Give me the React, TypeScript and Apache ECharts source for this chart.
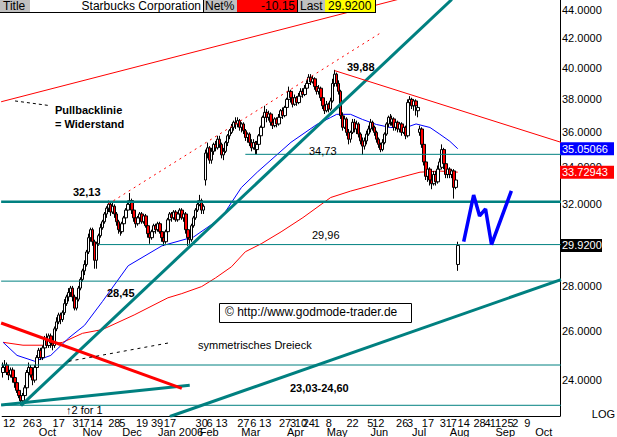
import React, { useEffect, useRef } from 'react';
import * as echarts from 'echarts';

const FONT = '"Liberation Sans", Arial, sans-serif';

// ---- categories: trading days starting 2005-09-06 ----
const HOLIDAYS = ['2005-11-24', '2005-12-26', '2006-01-02', '2006-01-16', '2006-02-20', '2006-04-14', '2006-05-29', '2006-07-04'];
const CATEGORY_COUNT = 281;
function tradingDays(): string[] {
  const out: string[] = [];
  const d = new Date(Date.UTC(2005, 8, 6));
  while (out.length < CATEGORY_COUNT) {
    const wd = d.getUTCDay();
    const s = d.toISOString().slice(0, 10);
    if (wd !== 0 && wd !== 6 && HOLIDAYS.indexOf(s) < 0) out.push(s);
    d.setUTCDate(d.getUTCDate() + 1);
  }
  return out;
}
const dates = tradingDays();

// ---- tick labels ----
const dayTicks: [number, string][] = [[3, '12'], [13, '26'], [18, '3'], [28, '17'], [38, '31'], [42, '7'], [47, '14'], [56, '28'], [60, '5'], [70, '19'], [76, '3'], [79, '9'], [84, '17'], [100, '30'], [104, '6'], [110, '13'], [121, '27'], [126, '6'], [132, '13'], [142, '27'], [146, '3'], [150, '10'], [154, '24'], [158, '1'], [164, '8'], [176, '22'], [185, '5'], [189, '12'], [201, '26'], [205, '3'], [214, '17'], [223, '31'], [227, '7'], [232, '14'], [240, '28'], [244, '4'], [248, '11'], [254, '25'], [258, '2'], [264, '9']];
const monthTicks: [number, string][] = [[18, 'Oct'], [40, 'Nov'], [60, 'Dec'], [78, 'Jan 2006'], [99, 'Feb'], [120, 'Mar'], [143, 'Apr'], [163, 'May'], [185, 'Jun'], [206, 'Jul'], [225, 'Aug'], [248, 'Sep'], [268, 'Oct']];
const priceTicks = [24, 26, 28, 32, 34, 36, 38, 40, 42, 44];
const priceMin = 22.63;
const priceMax = 44.71;
const lastMA50 = 35.05066;
const lastMA200 = 33.72943;
const lastPrice = 29.92;

// ---- candles: [open, close, low, high] ----
const candles: number[][] = [
  [24.3, 24.5, 24.1, 24.7], [24.5, 24.6, 24.3, 24.8], [24.6, 24.3, 24.2, 24.7], [24.3, 24.2, 24.0, 24.4], [24.2, 24.4, 24.1, 24.5],
  [24.4, 24.1, 23.9, 24.5], [24.1, 23.9, 23.7, 24.2], [23.9, 23.6, 23.5, 24.0], [23.6, 23.4, 23.3, 23.7], [23.4, 23.2, 23.03, 23.5],
  [23.2, 23.4, 23.05, 23.5], [23.4, 23.7, 23.3, 23.8], [23.7, 24.3, 23.6, 24.4], [24.3, 24.5, 24.2, 24.7], [24.5, 24.2, 24.1, 24.6],
  [24.2, 24.0, 23.8, 24.3], [24.0, 24.5, 23.9, 24.6], [24.5, 24.9, 24.4, 25.0], [24.9, 25.2, 24.8, 25.3], [25.2, 24.9, 24.8, 25.3],
  [24.9, 25.3, 24.8, 25.4], [25.3, 25.7, 25.2, 25.8], [25.7, 25.4, 25.3, 25.9], [25.4, 25.8, 25.3, 25.9], [25.8, 25.5, 25.3, 25.9],
  [25.5, 25.4, 25.2, 25.6], [25.4, 26.1, 25.3, 26.2], [26.1, 26.4, 26.0, 26.6], [26.4, 26.7, 26.3, 26.8], [26.7, 26.5, 26.3, 26.8],
  [26.5, 26.8, 26.4, 26.9], [26.8, 27.2, 26.7, 27.4], [27.2, 27.5, 27.1, 27.6], [27.5, 27.7, 27.3, 27.9], [27.7, 27.9, 27.5, 28.0],
  [27.9, 27.5, 27.3, 28.0], [27.5, 27.0, 26.9, 27.6], [27.0, 27.4, 26.9, 27.5], [27.4, 27.9, 27.3, 28.0], [27.9, 28.3, 27.8, 28.4],
  [28.3, 28.7, 28.2, 28.8], [28.7, 29.0, 28.5, 29.2], [29.0, 29.6, 28.9, 29.7], [29.6, 30.3, 29.5, 30.5], [30.3, 30.7, 30.1, 30.8],
  [30.7, 30.1, 29.9, 30.8], [30.1, 29.2, 28.8, 30.2], [29.2, 30.0, 28.8, 30.1], [30.0, 30.4, 29.9, 30.5], [30.4, 30.8, 30.3, 31.0],
  [30.8, 31.1, 30.7, 31.2], [31.1, 31.5, 31.0, 31.6], [31.5, 31.8, 31.3, 31.9], [31.8, 32.0, 31.6, 32.2], [32.0, 31.6, 31.4, 32.1],
  [31.6, 31.9, 31.5, 32.1], [31.9, 31.5, 31.3, 32.0], [31.5, 31.1, 30.9, 31.6], [31.1, 30.7, 30.5, 31.2], [30.7, 30.6, 30.4, 30.9],
  [30.6, 31.0, 30.5, 31.1], [31.0, 31.3, 30.9, 31.4], [31.3, 31.7, 31.2, 31.8], [31.7, 32.0, 31.6, 32.2], [32.0, 32.2, 31.8, 32.6],
  [32.2, 31.7, 31.5, 32.3], [31.7, 31.3, 31.1, 31.8], [31.3, 31.0, 30.8, 31.4], [31.0, 31.3, 30.9, 31.4], [31.3, 31.5, 31.1, 31.6],
  [31.5, 31.1, 31.0, 31.6], [31.1, 31.4, 31.0, 31.5], [31.4, 30.9, 30.8, 31.5], [30.9, 30.5, 30.3, 31.0], [30.5, 30.3, 30.0, 30.6],
  [30.3, 30.6, 30.2, 30.7], [30.6, 30.9, 30.5, 31.0], [30.9, 30.7, 30.5, 31.0], [30.7, 31.0, 30.6, 31.1], [31.0, 30.6, 30.5, 31.1],
  [30.6, 30.3, 30.1, 30.7], [30.3, 30.1, 29.9, 30.4], [30.1, 30.6, 30.0, 30.7], [30.6, 31.2, 30.5, 31.3], [31.2, 31.5, 31.0, 31.6],
  [31.5, 31.3, 31.1, 31.6], [31.3, 31.6, 31.2, 31.7], [31.6, 31.2, 31.1, 31.7], [31.2, 31.5, 31.1, 31.6], [31.5, 31.7, 31.3, 31.8],
  [31.7, 31.3, 31.2, 31.8], [31.3, 31.5, 31.1, 31.6], [31.5, 30.7, 30.5, 31.6], [30.7, 30.3, 29.9, 30.8], [30.3, 30.2, 30.0, 30.5],
  [30.2, 30.9, 30.1, 31.0], [30.9, 31.3, 30.8, 31.4], [31.3, 31.7, 31.2, 31.8], [31.7, 32.0, 31.6, 32.2], [32.0, 32.2, 31.9, 32.5],
  [32.2, 31.7, 31.5, 32.3], [31.7, 31.9, 31.5, 32.0], [33.3, 34.8, 33.0, 35.0], [34.8, 35.1, 34.5, 35.4], [35.1, 34.4, 34.2, 35.2],
  [34.4, 34.9, 34.2, 35.1], [34.9, 35.3, 34.7, 35.4], [35.3, 35.1, 34.9, 35.5], [35.1, 35.6, 35.0, 35.8], [35.6, 35.3, 35.1, 35.8],
  [35.3, 34.7, 34.5, 35.4], [34.7, 34.9, 34.4, 35.1], [34.9, 35.4, 34.8, 35.5], [35.4, 35.8, 35.2, 35.9], [35.8, 36.1, 35.6, 36.2],
  [36.0, 36.3, 35.9, 36.5], [36.3, 36.6, 36.1, 36.7], [36.6, 36.5, 36.2, 36.9], [36.5, 36.7, 36.3, 36.9], [36.7, 36.3, 36.1, 36.8],
  [36.3, 36.5, 36.0, 36.6], [36.5, 36.1, 35.9, 36.6], [36.1, 35.7, 35.5, 36.2], [35.7, 35.9, 35.4, 36.0], [35.9, 35.4, 35.2, 36.0],
  [35.4, 35.1, 34.9, 35.6], [35.1, 35.4, 35.0, 35.6], [35.4, 35.0, 34.73, 35.5], [35.0, 35.3, 34.73, 35.5], [35.3, 35.8, 35.1, 35.9],
  [35.8, 36.3, 35.6, 36.4], [36.3, 36.9, 36.1, 37.0], [36.9, 37.2, 36.7, 37.6], [37.2, 36.9, 36.6, 37.4], [36.9, 37.1, 36.7, 37.3],
  [37.1, 36.6, 36.4, 37.2], [36.6, 36.4, 36.2, 36.8], [36.4, 36.8, 36.3, 36.9], [36.8, 36.5, 36.3, 36.9], [36.5, 36.9, 36.4, 37.1],
  [36.9, 37.3, 36.8, 37.4], [37.3, 37.0, 36.8, 37.5], [37.0, 37.5, 36.9, 37.6], [37.5, 38.0, 37.4, 38.1], [38.0, 38.5, 37.9, 38.8],
  [38.5, 38.1, 37.8, 38.6], [38.1, 37.7, 37.5, 38.2], [37.7, 38.1, 37.6, 38.3], [38.1, 37.8, 37.6, 38.2], [37.8, 38.2, 37.7, 38.4],
  [38.2, 38.5, 38.1, 38.7], [38.5, 38.3, 38.1, 38.7], [38.3, 38.7, 38.2, 38.9], [38.7, 39.0, 38.6, 39.2], [39.0, 39.4, 38.9, 39.6],
  [39.4, 39.1, 38.9, 39.6], [39.1, 39.3, 39.0, 39.5], [39.3, 38.8, 38.6, 39.4], [38.8, 38.5, 38.3, 38.9], [38.5, 38.7, 38.3, 38.9],
  [38.7, 38.1, 37.9, 38.8], [38.1, 37.6, 37.4, 38.2], [37.6, 37.3, 37.1, 37.8], [37.3, 37.7, 37.2, 37.9], [37.7, 37.4, 37.2, 37.8],
  [37.4, 37.9, 37.3, 38.1], [37.9, 39.0, 37.8, 39.3], [39.0, 39.6, 38.8, 39.88], [39.6, 39.0, 38.8, 39.7], [39.0, 38.5, 38.3, 39.2],
  [38.5, 37.0, 36.8, 38.6], [37.0, 36.3, 36.1, 37.2], [36.3, 36.8, 36.2, 37.0], [36.8, 36.0, 35.8, 36.9], [36.0, 35.6, 35.3, 36.2],
  [35.6, 36.0, 35.4, 36.1], [36.0, 36.6, 35.9, 36.8], [36.6, 36.2, 36.0, 36.8], [36.2, 36.5, 35.9, 36.7], [36.5, 35.9, 35.7, 36.6],
  [35.9, 35.5, 35.3, 36.0], [35.5, 35.2, 34.7, 35.7], [35.2, 35.5, 35.0, 35.7], [35.5, 35.9, 35.3, 36.1], [35.9, 36.2, 35.8, 36.4],
  [36.2, 36.6, 36.0, 36.8], [36.6, 36.3, 36.1, 36.7], [36.3, 36.0, 35.8, 36.4], [36.0, 35.6, 35.4, 36.1], [35.6, 35.3, 35.1, 35.7],
  [35.3, 35.0, 34.85, 35.4], [35.0, 35.4, 34.9, 35.6], [35.4, 35.9, 35.3, 36.0], [35.9, 36.5, 35.8, 36.6], [36.5, 36.9, 36.3, 37.0],
  [36.9, 36.6, 36.4, 37.1], [36.6, 36.8, 36.4, 37.0], [36.8, 36.3, 36.1, 36.9], [36.3, 36.6, 36.1, 36.8], [36.6, 36.2, 36.0, 36.7],
  [36.2, 36.5, 36.0, 36.6], [36.5, 36.0, 35.8, 36.6], [36.0, 36.3, 35.9, 36.5], [36.3, 35.8, 35.6, 36.4], [35.8, 37.8, 35.7, 38.0],
  [37.8, 38.0, 37.5, 38.2], [38.0, 37.6, 37.4, 38.1], [37.6, 37.9, 37.3, 38.0], [37.9, 37.6, 37.0, 38.0], [37.3, 37.5, 36.9, 37.7],
  [36.0, 36.2, 35.8, 36.4], [36.2, 35.3, 35.1, 36.3], [35.3, 34.3, 34.1, 35.5], [34.3, 33.5, 33.3, 34.5], [33.5, 33.9, 33.2, 34.2],
  [33.9, 33.3, 33.0, 34.0], [33.3, 33.1, 32.8, 33.6], [33.1, 33.6, 33.0, 33.8], [33.6, 33.2, 33.0, 33.8], [33.2, 33.9, 33.1, 34.1],
  [33.9, 34.3, 33.7, 34.5], [34.0, 35.0, 33.9, 35.3], [35.0, 34.2, 33.9, 35.1], [34.2, 33.6, 33.4, 34.4], [33.6, 33.9, 33.4, 34.0],
  [33.9, 33.6, 33.4, 34.0], [33.6, 33.8, 33.4, 33.9], [33.8, 32.9, 32.3, 33.9], [32.9, 33.3, 32.8, 33.5], [29.0, 29.92, 28.7, 30.1],
];

// ---- moving averages [dayIndex, price] ----
const ma50: [number, number][] = [[0, 25.53], [7, 24.99], [16, 24.75], [24, 24.99], [33, 25.71], [41, 26.25], [50, 27.29], [63, 28.94], [80, 29.9], [96, 30.34], [110, 31.31], [120, 32.89], [128, 33.73], [145, 35.42], [158, 36.47], [165, 36.89], [168, 37.08], [175, 37.08], [181, 36.77], [188, 36.47], [195, 36.29], [203, 36.29], [208, 36.5], [215, 36.29], [220, 35.89], [225, 35.48], [229, 35.05]];
const ma200: [number, number][] = [[0, 25.53], [10, 25.41], [20, 25.41], [30, 25.53], [40, 25.91], [50, 26.07], [66, 26.7], [83, 27.46], [90, 27.65], [100, 27.97], [107, 28.37], [115, 28.89], [122, 29.61], [130, 30.0], [140, 30.59], [151, 31.31], [165, 32.36], [175, 32.7], [188, 33.08], [200, 33.44], [210, 33.73], [220, 33.79], [229, 33.73]];

// ---- drawn trend lines [dayIndex, price] ----
const upTrend: [number, number][] = [[9, 23.02], [226, 44.75]];
const lowerTrend: [number, number][] = [[84, 22.61], [281, 28.29]];
const triangleLow: [number, number][] = [[-1, 23.04], [94, 23.8]];
const triangleHigh: [number, number][] = [[-1, 26.35], [90, 23.68]];
const pullbackLine: [number, number][] = [[-1, 37.85], [210, 45.17]];
const channelLine: [number, number][] = [[53, 32.02], [191, 42.44]];
const topLine: [number, number][] = [[167, 39.83], [281, 35.42]];
const pullbackPointer: [number, number][] = [[6, 37.9], [23, 37.62]];
const triangleDash: [number, number][] = [[33, 24.75], [85, 25.53]];
const projection: [number, number][] = [[232, 30.1], [237, 32.49], [240, 31.4], [243, 31.76], [246, 29.96], [256, 32.71]];
// horizontal levels: [price, fromIndex]
const levelThin: [number, number][] = [[34.73, 122], [29.96, 48], [28.22, -1], [24.6, -1], [23.03, -1]];
const levelThick: [number, number][] = [[32.13, -1]];

const L = Math.log;
const TEAL = '#008080';

function lineSeries(pts: [number, number][], color: string, width: number, type: any = 'solid', z = 5) {
  return {
    type: 'line',
    data: pts.map(([x, p]) => [x, L(p)]),
    symbol: 'none',
    silent: true,
    clip: true,
    z,
    lineStyle: { color, width, type },
  };
}

export default function App() {
  const ref = useRef<HTMLDivElement>(null);
  useEffect(() => {
    if (!ref.current) return;
    const chart = echarts.init(ref.current, undefined, { renderer: 'svg' });
    const dayMap = new Map(dayTicks);
    const monthMap = new Map(monthTicks);
    const hl = [lastMA50, lastMA200, lastPrice];
    const hlStyle = ['blue', 'red', 'black'];
    const series: any[] = [
      { ...lineSeries(ma200, '#ff0000', 1, 'solid', 2) },
      { ...lineSeries(ma50, '#0000ff', 1, 'solid', 2) },
      {
        type: 'candlestick',
        data: candles.map((c) => c.map(L)),
        barWidth: 3,
        z: 3,
        silent: true,
        itemStyle: { color: '#ffffff', color0: '#ff0000', borderColor: '#000000', borderColor0: '#000000', borderWidth: 1 },
      },
      lineSeries(upTrend, TEAL, 3),
      lineSeries(lowerTrend, TEAL, 3),
      lineSeries(triangleLow, TEAL, 3),
      lineSeries(triangleHigh, '#ff0000', 3),
      lineSeries(pullbackLine, '#ff0000', 1),
      lineSeries(channelLine, '#ff0000', 1, [2, 4]),
      lineSeries(topLine, '#ff0000', 1),
      lineSeries(pullbackPointer, '#000000', 1, [3, 3]),
      lineSeries(triangleDash, '#000000', 1, [3, 4]),
      lineSeries(projection, '#0000ff', 3.5, 'solid', 6),
      ...levelThin.map(([p, from]) => lineSeries([[from, p], [281, p]], TEAL, 1, 'solid', 4)),
      ...levelThick.map(([p, from]) => lineSeries([[from, p], [281, p]], TEAL, 2.5, 'solid', 4)),
    ];

    const txt = (text: string, x: number, y: number, font: string, align = 'left', fill = '#000') => ({
      type: 'text', x, y, z: 100,
      style: { text, font, fill, align, verticalAlign: 'top' },
    });
    const rect = (x: number, y: number, w: number, h: number, fill: string, stroke?: string) => ({
      type: 'rect', z: 99, shape: { x, y, width: w, height: h },
      style: { fill, stroke: stroke || null, lineWidth: 1 },
    });
    const ln = (x1: number, y1: number, x2: number, y2: number) => ({
      type: 'line', z: 101, shape: { x1, y1, x2, y2 }, style: { stroke: '#000', lineWidth: 1 },
    });
    const HF = `12px ${FONT}`;
    const BF = `bold 11px ${FONT}`;
    const RF = `11px ${FONT}`;

    const graphic: any[] = [
      rect(0, 0, 376, 12, '#ffffff'),
      rect(0, 0, 30, 12, '#c0c0c0'),
      rect(203, 0, 34, 12, '#c0c0c0'),
      rect(237, 0, 60, 12, '#ff0000'),
      rect(298, 0, 27, 12, '#c0c0c0'),
      rect(325, 0, 50, 12, '#ffff00'),
      ln(0, 12.5, 376, 12.5),
      ln(203.5, 0, 203.5, 12),
      ln(297.5, 0, 297.5, 12),
      ln(375.5, 0, 375.5, 13),
      txt('Title', 3, 0, HF),
      txt('Starbucks Corporation', 201, 0, HF, 'right'),
      txt('Net%', 205, 0, HF),
      txt('-10.15', 295, 0, HF, 'right'),
      txt('Last', 300, 0, HF),
      txt('29.9200', 328, 0, HF),
      txt('Pullbacklinie', 55, 104, BF),
      txt('= Widerstand', 55, 118, BF),
      txt('32,13', 73, 186, BF),
      txt('28,45', 107, 287, BF),
      txt('39,88', 347, 61, BF),
      txt('34,73', 309, 145, RF),
      txt('29,96', 312, 229, RF),
      txt('23,03-24,60', 290, 382, BF),
      txt('symmetrisches Dreieck', 198, 339, RF),
      { type: 'rect', z: 99, shape: { x: 219.5, y: 303.5, width: 192, height: 19 }, style: { fill: '#fff', stroke: '#000', lineWidth: 1 } },
      txt('\u00a9 http://www.godmode-trader.de', 225, 306, HF),
      txt('\u21912 for 1', 66, 404, RF),
      txt('LOG', 615, 408, RF, 'right'),
    ];

    const option: any = {
      animation: false,
      backgroundColor: '#ffffff',
      grid: { left: 0, right: 54, top: 0, bottom: 19 },
      xAxis: [
        {
          type: 'category',
          data: dates,
          boundaryGap: true,
          axisLine: { show: true, onZero: false, lineStyle: { color: '#000', width: 1 } },
          axisTick: { show: false },
          splitLine: { show: false },
          axisLabel: {
            interval: (i: number) => dayMap.has(i),
            formatter: (_v: string, i: number) => dayMap.get(i) || '',
            margin: 1,
            fontSize: 11,
            fontFamily: FONT,
            color: '#000',
          },
        },
        {
          type: 'category',
          data: dates,
          position: 'bottom',
          boundaryGap: true,
          axisLine: { show: false },
          axisTick: { show: false },
          splitLine: { show: false },
          axisLabel: {
            interval: (i: number) => monthMap.has(i),
            formatter: (_v: string, i: number) => monthMap.get(i) || '',
            margin: 10,
            align: 'left',
            fontSize: 11,
            fontFamily: FONT,
            color: '#000',
          },
        },
      ],
      yAxis: [
        {
          type: 'value',
          position: 'right',
          min: L(priceMin),
          max: L(priceMax),
          scale: true,
          axisLine: { show: true, onZero: false, lineStyle: { color: '#000', width: 1 } },
          axisTick: { show: false },
          splitLine: { show: false },
          axisLabel: {
            customValues: priceTicks.map(L),
            formatter: (v: number) => Math.exp(v).toFixed(4),
            margin: 2,
            fontSize: 11,
            fontFamily: FONT,
            color: '#000',
          },
        },
        {
          type: 'value',
          position: 'right',
          min: L(priceMin),
          max: L(priceMax),
          scale: true,
          axisLine: { show: false },
          axisTick: { show: false },
          splitLine: { show: false },
          axisLabel: {
            customValues: hl.map(L),
            formatter: (v: number) => {
              const p = Math.exp(v);
              let k = 0;
              hl.forEach((h, j) => { if (Math.abs(h - p) < Math.abs(hl[k] - p)) k = j; });
              const txtv = k === 2 ? hl[k].toFixed(4) : hl[k].toFixed(5);
              return `{${hlStyle[k]}|${txtv}}`;
            },
            margin: 0,
            rich: {
              blue: { backgroundColor: '#0000ff', color: '#fff', width: 52, padding: [1, 0, 1, 2], fontSize: 11, fontFamily: FONT, lineHeight: 12 },
              red: { backgroundColor: '#ff0000', color: '#fff', width: 52, padding: [1, 0, 1, 2], fontSize: 11, fontFamily: FONT, lineHeight: 12 },
              black: { backgroundColor: '#000000', color: '#fff', width: 39, padding: [1, 1, 1, 2], fontSize: 11, fontFamily: FONT, lineHeight: 12 },
            },
          },
        },
      ],
      series,
      graphic,
    };
    chart.setOption(option);
    return () => chart.dispose();
  }, []);
  return (
    <div
      ref={ref}
      style={{ position: 'absolute', left: 0, top: 0, width: 617, height: 437, background: '#fff' }}
    />
  );
}
